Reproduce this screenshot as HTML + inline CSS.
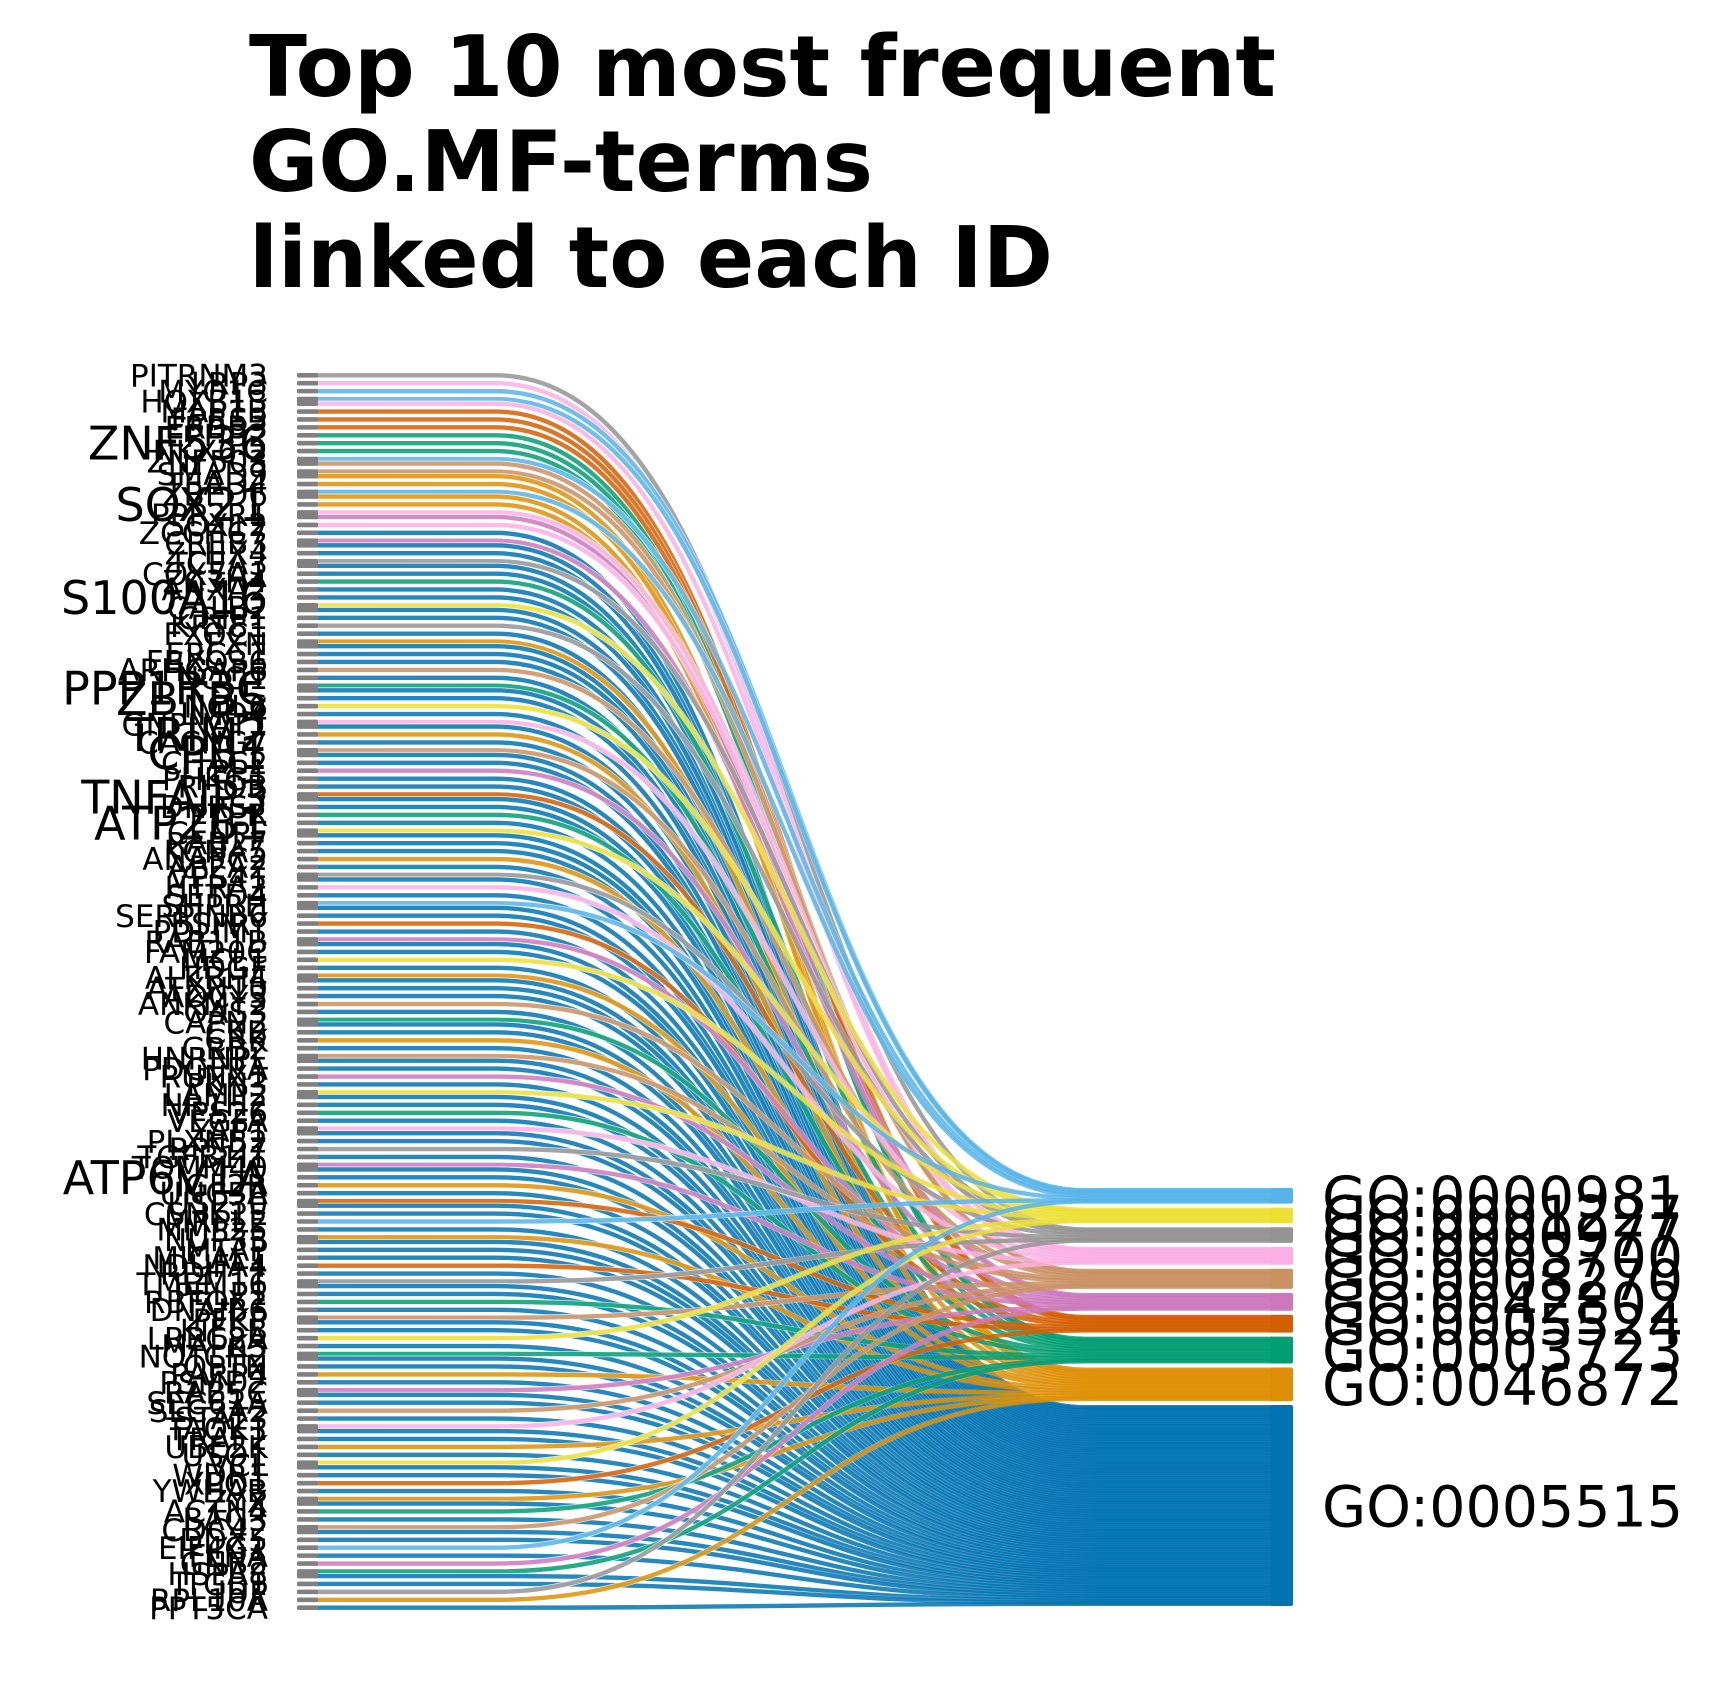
<!DOCTYPE html>
<html><head><meta charset="utf-8">
<style>
html,body{margin:0;padding:0;background:#fff;}
svg{display:block;}
text{font-family:"DejaVu Sans","Liberation Sans",sans-serif;}
</style></head>
<body>
<svg id="chart" width="1719" height="1697" viewBox="0 0 1719 1697" xmlns="http://www.w3.org/2000/svg">
  <defs>
    <linearGradient id="fade" gradientUnits="userSpaceOnUse" x1="300" y1="0" x2="1100" y2="0">
      <stop offset="0" stop-color="#fff" stop-opacity="0.9"/>
      <stop offset="0.35" stop-color="#fff" stop-opacity="0.8"/>
      <stop offset="0.8" stop-color="#fff" stop-opacity="0.15"/>
      <stop offset="1" stop-color="#fff" stop-opacity="0"/>
    </linearGradient>
  </defs>
  <g font-weight="bold" font-size="85" fill="#000">
    <text x="249" y="96" textLength="1027" lengthAdjust="spacingAndGlyphs">Top 10 most frequent</text>
    <text x="249" y="191" textLength="624" lengthAdjust="spacingAndGlyphs">GO.MF-terms</text>
    <text x="249" y="287" textLength="804" lengthAdjust="spacingAndGlyphs">linked to each ID</text>
  </g>
  <g id="links"></g>
  <g id="lnodes"></g>
  <g id="rnodes"></g>
</svg>
<script>
const terms = ["GO:0000981","GO:0001227","GO:0000977","GO:0003700","GO:0008270","GO:0042802","GO:0005524","GO:0003723","GO:0046872","GO:0005515"];
const termColors = ["#56b4e9","#ece133","#949494","#fbafe4","#ca9161","#cc78bc","#d55e00","#029e73","#de8f05","#0173b2"];
const genes = ["PITRNM3","LRP3","MYO1C","HOXB13","MAP1B","FPRS3","ERBB3","EPHB2","ZNF536","NKX6-2","ZNF503","SMAD9","TEAD4","ZBED6","SOX21","PPP2R1","SOX12","ZCCHC7","CREB3","ZFHX4","TCEA3","COX7A1","ZC3H4","ANXA2","S100A16","CALB2","CRIP1","KRT81","EXOC1","FXN","ERCC1","FBXO36","ARHGAP6","NQO1","PPP1R3C","ZBTB5","NOL6","LMO4","GNPNAT1","TRIM2","CACNG7","CPB1","CHAC2","TPP1","PHKG1","RHOB","TNFAIP3","DHRS7","PTER","ATP2B1","CENPF","RAB27","KCNA5","ANAPC2","AP2A2","VPS41","HTRA2","SETD4","SHPRH","SERPINB6","BSPRY","PDLIM1","RAB11B","FAM20C","MCL1","HDGF","ALKBH4","ATXN10","ADCY3","ANKMY2","OAS3","CAPN2","CKB","CRK","GRB2","HNRNPL","PDGFRA","RUNX1","PKN3","LAMP2","NR1H2","VPS26","VEGFA","YAP1","PLXNB2","RPS27","TGFB1I1","TOMM40","ATP6V1A","IGF2R","UNC5A","USP30","CSNK1E","MRPL2","MMP25","NUP35","MTAP","MICAL1","NDUFA4","RDH11","TMEM16","PELP1","RBFOX2","DNAJB6","PFKP","KIF5B","LRRC8A","MAPK3","NOTCH2","OPTN","PARP4","PSMD2","RAB5C","SEC61A","SLC3A2","STAT3","TAOK1","TRAF2","UBE2K","USO1","VCL","WDR1","XPO1","YWHAB","ZYX","ACTN4","BAG3","CDC42","DDX5","EIF4G1","FLNA","GNB2","HSPA8","ITGB1","JUP","RPL10A","PPT5CA"];
const geneTerms = ["2","3","0","03","6","6","6","7","7","7","04","48","8","08","8","35","3",
"9","59","9","29","9","7","9","9","19","9","2","9","89","9","9","4","9","79","9","1",
"9","39","8","9","49","9","5","9","9","69","9","7","9","19","9","9","8","9","29","3",
"9","09","9","6","9","59","9","1","9","89","9","9","4","9","79","9","8","9","49","9",
"5","9","19","9","7","9","39","9","2","9","59","9","8","9","69","9","0","9","89","9",
"9","6","9","29","9","7","9","49","9","1","9","79","9","8","9","59","9","4","9","39",
"9","8","9","19","9","6","9","89","7","9","49","9","0","9","5","79","9","2","8","9"];
const bigLabels = ["ZNF536","SOX21","S100A16","ZBTB5","TRIM2","CPB1","TNFAIP3","ATP2B1","ATP6V1A","PPP1R3C"];

const NS="http://www.w3.org/2000/svg";
const N = Math.min(genes.length, geneTerms.length);
const links=[]; const lists=[];
for(let i=0;i<N;i++){const t=geneTerms[i].split('').map(Number).sort((a,b)=>a-b);lists.push(t);t.forEach(k=>links.push({g:i,t:k}));}
const L=links.length;
const lTop=373,lBot=1610,lGap=3.3;
const lUnit=(lBot-lTop-(N-1)*lGap)/L;
const lY=[]; let y=lTop;
for(let i=0;i<N;i++){lY.push(y); y+=lists[i].length*lUnit+lGap;}
const rTop=1188,rBot=1606,rGap=4;
const counts=terms.map((_,k)=>links.filter(l=>l.t===k).length);
const rUnit=(rBot-rTop-(terms.length-1)*rGap)/L;
const rY=[]; y=rTop;
for(let k=0;k<terms.length;k++){rY.push(y); y+=counts[k]*rUnit+rGap;}
const lOff=lY.slice(); const rOff=rY.slice();
const linkG=document.getElementById('links');
const x0=316,xa=495,xb=1085,x1=1272,xm=(xa+xb)/2;
const SW=Math.max(3.5,lUnit*0.95);
for(let i=0;i<N;i++){
  lists[i].forEach(k=>{
    const a=lOff[i]+lUnit/2; lOff[i]+=lUnit;
    let b=rOff[k]+rUnit/2; rOff[k]+=rUnit;
    const h=counts[k]*rUnit;
    b=Math.min(Math.max(b,rY[k]+SW/2),rY[k]+h-SW/2);
    const d=`M${x0},${a} L${xa},${a} C${xm},${a} ${xm},${b} ${xb},${b} L${x1},${b}`;
    const w=document.createElementNS(NS,'path');
    
    
    w.setAttribute('d',d);w.setAttribute('fill','none');
    w.setAttribute('stroke','url(#fade)');w.setAttribute('stroke-width',SW+1.6);
    linkG.appendChild(w);
    const p=document.createElementNS(NS,'path');
    
    
    p.setAttribute('d',d);p.setAttribute('fill','none');
    p.setAttribute('stroke',termColors[k]);
    p.setAttribute('stroke-width',SW);
    p.setAttribute('stroke-opacity','0.85');
    linkG.appendChild(p);
  });
}
const lg=document.getElementById('lnodes');
for(let i=0;i<N;i++){
  const h=lists[i].length*lUnit;
  const r=document.createElementNS(NS,'rect');
  
  
  r.setAttribute('x',297);r.setAttribute('y',lY[i]);r.setAttribute('width',21);r.setAttribute('height',h);
  r.setAttribute('rx',1.5);r.setAttribute('fill','#808080');
  lg.appendChild(r);
  const t=document.createElementNS(NS,'text');
  
  
  const fs=bigLabels.includes(genes[i])?46:31;
  t.setAttribute('x',268);t.setAttribute('y',lY[i]+h/2+fs*0.36);
  t.setAttribute('text-anchor','end');t.setAttribute('font-size',fs);t.setAttribute('fill','#000');
  t.textContent=genes[i];
  lg.appendChild(t);
}
const rg=document.getElementById('rnodes');
for(let k=0;k<terms.length;k++){
  const h=counts[k]*rUnit;
  const r=document.createElementNS(NS,'rect');
  
  
  r.setAttribute('x',1270);r.setAttribute('y',rY[k]);r.setAttribute('width',23);r.setAttribute('height',h);
  r.setAttribute('rx',2);r.setAttribute('fill',termColors[k]);
  rg.appendChild(r);
  const t=document.createElementNS(NS,'text');
  
  
  t.setAttribute('x',1322);t.setAttribute('y',rY[k]+h/2+21);
  t.setAttribute('font-size',57);t.setAttribute('fill','#000');
  t.textContent=terms[k];
  rg.appendChild(t);
}
</script>
</body></html>
